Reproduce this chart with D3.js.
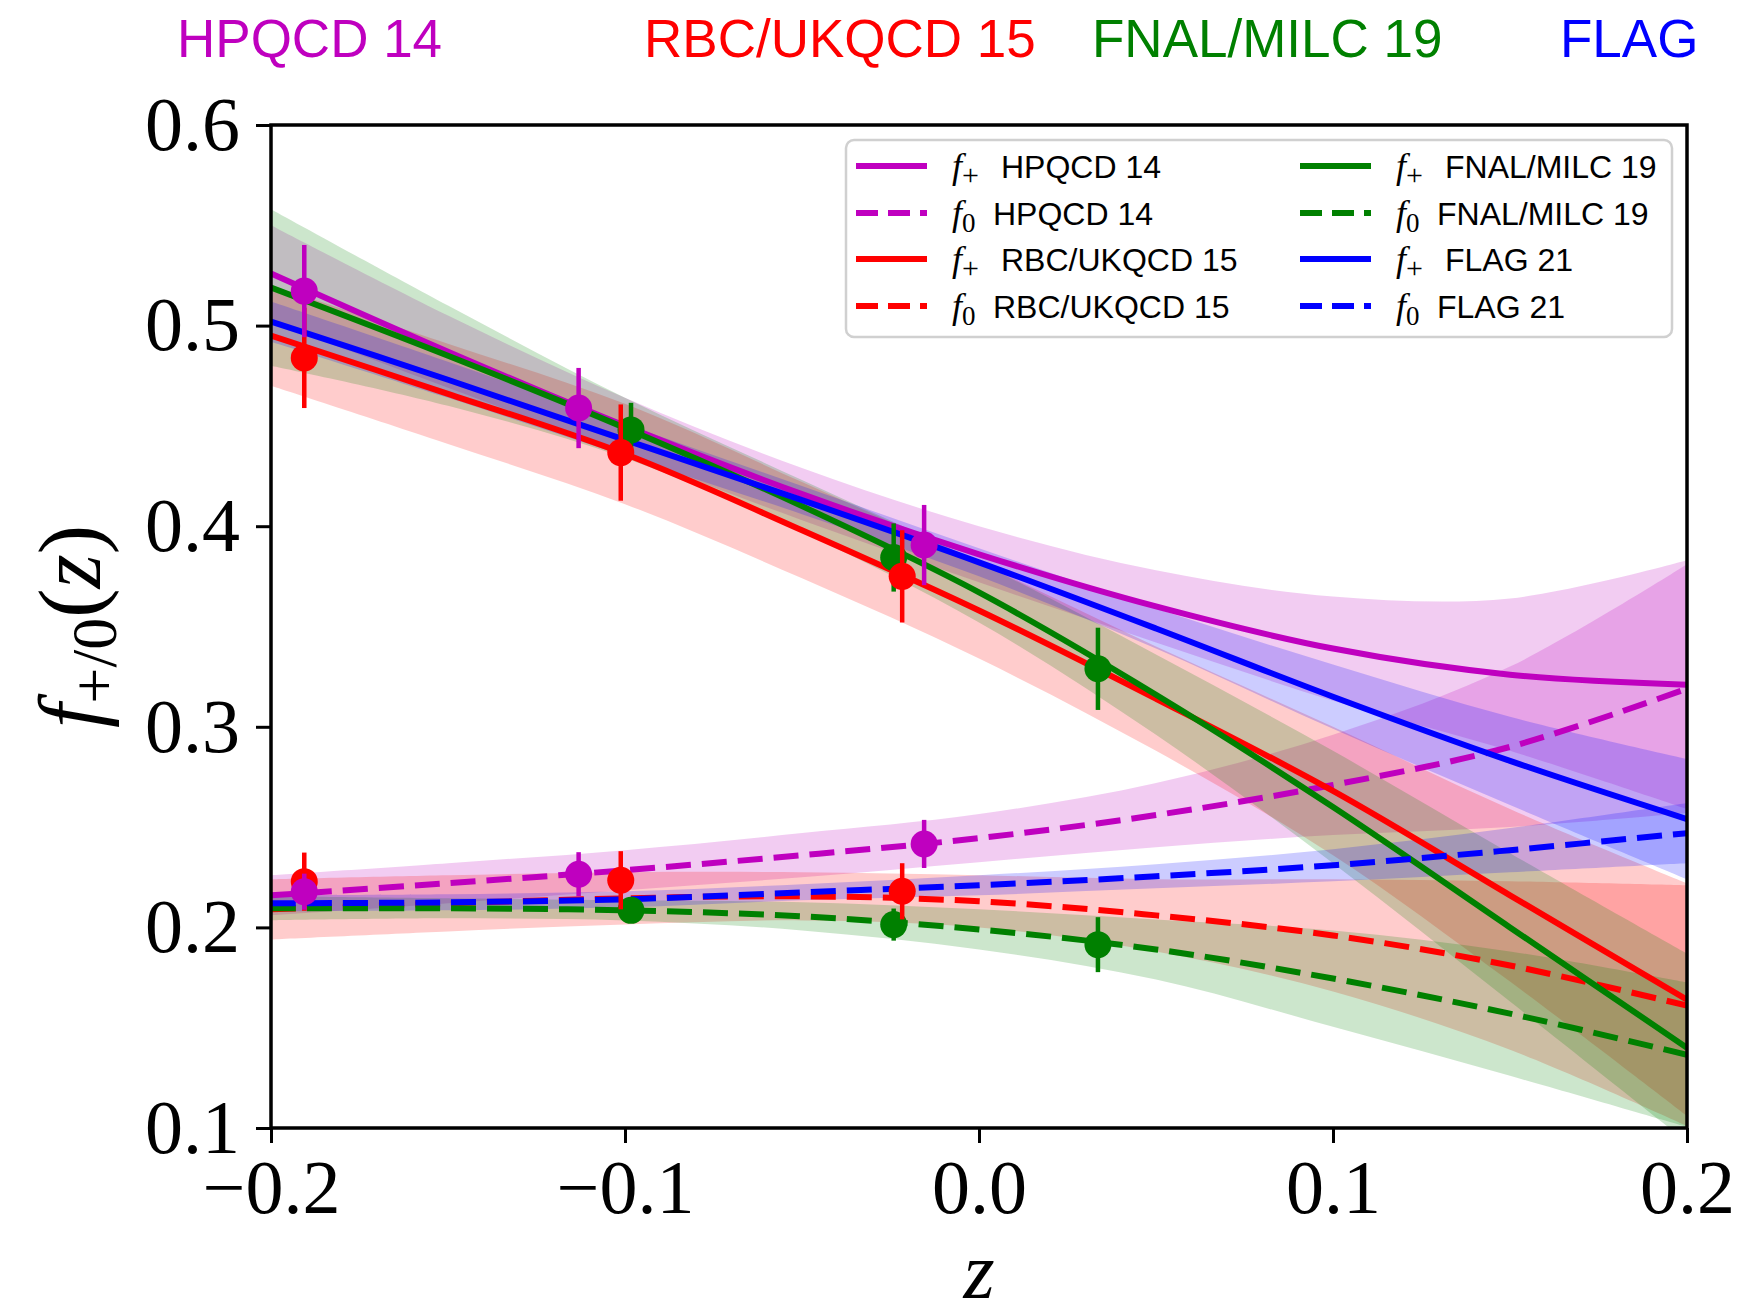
<html>
<head>
    <script src = "https://d3js.org/d3.v7.min.js"></script>
    <style>
        body { margin: 0; background: #fff; }
    </style>
</head>
<body>
<script>

    //--------------------------data-------------------------
    // z nodes where the fitted curves were read off
    var zNodes = [-0.2, -0.15, -0.1, -0.05, 0.0, 0.05, 0.1, 0.15, 0.2];

    // HPQCD 14
    var hpqcdFp    = [0.526, 0.487, 0.450, 0.416, 0.386, 0.360, 0.339, 0.326, 0.321];
    var hpqcdFpErr = [0.024, 0.018, 0.014, 0.013, 0.014, 0.018, 0.026, 0.038, 0.062];
    var hpqcdF0    = [0.216, 0.222, 0.2285, 0.236, 0.2445, 0.256, 0.271, 0.290, 0.319];
    var hpqcdF0Err = [0.010, 0.010, 0.010, 0.011, 0.012, 0.016, 0.025, 0.040, 0.062];

    // RBC/UKQCD 15
    var rbcFp    = [0.495, 0.466, 0.436, 0.398, 0.358, 0.314, 0.268, 0.216, 0.164];
    var rbcFpErr = [0.025, 0.025, 0.025, 0.024, 0.024, 0.026, 0.032, 0.043, 0.058];
    var rbcF0    = [0.209, 0.212, 0.2145, 0.2155, 0.213, 0.206, 0.196, 0.181, 0.161];
    var rbcF0Err = [0.015, 0.014, 0.013, 0.012, 0.013, 0.018, 0.028, 0.042, 0.060];

    // FNAL/MILC 19
    var fnalFp    = [0.519, 0.485, 0.449, 0.410, 0.367, 0.316, 0.260, 0.200, 0.140];
    var fnalFpErr = [0.039, 0.025, 0.015, 0.013, 0.015, 0.020, 0.028, 0.037, 0.047];
    var fnalF0    = [0.2095, 0.2095, 0.2085, 0.2055, 0.199, 0.189, 0.1745, 0.157, 0.1365];
    var fnalF0Err = [0.006, 0.005, 0.005, 0.007, 0.010, 0.015, 0.024, 0.031, 0.036];

    // FLAG 21
    var flagFp    = [0.502, 0.473, 0.443, 0.413, 0.382, 0.349, 0.315, 0.283, 0.254];
    var flagFpErr = [0.010, 0.009, 0.008, 0.007, 0.007, 0.010, 0.016, 0.022, 0.030];
    var flagF0    = [0.212, 0.2125, 0.214, 0.2175, 0.221, 0.2255, 0.231, 0.2385, 0.247];
    var flagF0Err = [0.004, 0.004, 0.004, 0.004, 0.005, 0.006, 0.008, 0.011, 0.015];

    // lattice data points
    var hpqcdPtZ    = [-0.1906, -0.1131, -0.0155];
    var hpqcdPtFp   = [0.5172, 0.4589, 0.3906];
    var hpqcdPtFpE  = [0.023, 0.020, 0.020];
    var hpqcdPtF0   = [0.2178, 0.2265, 0.2416];
    var hpqcdPtF0E  = [0.009, 0.011, 0.012];

    var rbcPtZ    = [-0.1906, -0.1012, -0.0217];
    var rbcPtFp   = [0.4839, 0.4367, 0.375];
    var rbcPtFpE  = [0.025, 0.024, 0.023];
    var rbcPtF0   = [0.2228, 0.2235, 0.218];
    var rbcPtF0E  = [0.0145, 0.0145, 0.014];

    var fnalPtZ    = [-0.0983, -0.0241, 0.0336];
    var fnalPtFp   = [0.448, 0.3844, 0.3289];
    var fnalPtFpE  = [0.0135, 0.017, 0.0205];
    var fnalPtF0   = [0.2085, 0.2014, 0.1914];
    var fnalPtF0E  = [0.006, 0.008, 0.0137];

    var xTicks = [-0.2, -0.1, 0.0, 0.1, 0.2];
    var xTickLabels = ["\u22120.2", "\u22120.1", "0.0", "0.1", "0.2"];
    var yTicks = [0.1, 0.2, 0.3, 0.4, 0.5, 0.6];
    var yTickLabels = ["0.1", "0.2", "0.3", "0.4", "0.5", "0.6"];

    var titles = ["HPQCD 14", "RBC/UKQCD 15", "FNAL/MILC 19", "FLAG"];
    var legendNames = ["HPQCD 14", "RBC/UKQCD 15", "FNAL/MILC 19", "FLAG 21"];

    //--------------------------setup-------------------------
    var W = 1747, H = 1312;
    // plot area (note: "top" is a reserved window property, so prefix these)
    var pLeft = 271, pRight = 1687, pTop = 125, pBottom = 1128;
    var serif = "'Liberation Serif', 'DejaVu Serif', serif";
    var sans = "'Liberation Sans', Arial, sans-serif";
    var lw = 6, dash = "25,11";

    var colors = {hpqcd: "#bf00bf", rbc: "#ff0000", fnal: "#008000", flag: "#0000ff"};

    var x = d3.scaleLinear().domain([-0.2, 0.2]).range([pLeft, pRight]);
    var y = d3.scaleLinear().domain([0.1, 0.6]).range([pBottom, pTop]);

    var svg = d3.select("body").append("svg")
        .attr("width", W)
        .attr("height", H);

    svg.append("defs").append("clipPath")
        .attr("id", "plotclip")
        .append("rect")
        .attr("x", pLeft).attr("y", pTop)
        .attr("width", pRight - pLeft).attr("height", pBottom - pTop);

    var plot = svg.append("g").attr("clip-path", "url(#plotclip)");

    var series = [
        {key: "hpqcd", fp: hpqcdFp, fpErr: hpqcdFpErr, f0: hpqcdF0, f0Err: hpqcdF0Err},
        {key: "rbc",   fp: rbcFp,   fpErr: rbcFpErr,   f0: rbcF0,   f0Err: rbcF0Err},
        {key: "fnal",  fp: fnalFp,  fpErr: fnalFpErr,  f0: fnalF0,  f0Err: fnalF0Err},
        {key: "flag",  fp: flagFp,  fpErr: flagFpErr,  f0: flagF0,  f0Err: flagF0Err}
    ];

    var rows = function (c, e) {
        return zNodes.map(function (z, i) { return {z: z, c: c[i], e: e[i]}; });
    };

    var band = d3.area()
        .curve(d3.curveCatmullRom)
        .x(function (d) { return x(d.z); })
        .y0(function (d) { return y(d.c - d.e); })
        .y1(function (d) { return y(d.c + d.e); });

    var line = d3.line()
        .curve(d3.curveCatmullRom)
        .x(function (d) { return x(d.z); })
        .y(function (d) { return y(d.c); });

    // bands first
    series.forEach(function (s) {
        plot.append("path")
            .attr("d", band(rows(s.fp, s.fpErr)))
            .attr("fill", colors[s.key])
            .attr("fill-opacity", 0.2);
        plot.append("path")
            .attr("d", band(rows(s.f0, s.f0Err)))
            .attr("fill", colors[s.key])
            .attr("fill-opacity", 0.2);
    });

    // central curves
    series.forEach(function (s) {
        plot.append("path")
            .attr("d", line(rows(s.fp, s.fpErr)))
            .attr("fill", "none")
            .attr("stroke", colors[s.key])
            .attr("stroke-width", lw);
        plot.append("path")
            .attr("d", line(rows(s.f0, s.f0Err)))
            .attr("fill", "none")
            .attr("stroke", colors[s.key])
            .attr("stroke-width", lw)
            .attr("stroke-dasharray", dash);
    });

    // data points with error bars
    var points = [
        {key: "fnal",  z: fnalPtZ,  v: [fnalPtFp, fnalPtF0],   e: [fnalPtFpE, fnalPtF0E]},
        {key: "rbc",   z: rbcPtZ,   v: [rbcPtFp, rbcPtF0],     e: [rbcPtFpE, rbcPtF0E]},
        {key: "hpqcd", z: hpqcdPtZ, v: [hpqcdPtFp, hpqcdPtF0], e: [hpqcdPtFpE, hpqcdPtF0E]}
    ];
    points.forEach(function (p) {
        [0, 1].forEach(function (k) {
            p.z.forEach(function (z, i) {
                var g = plot.append("g");
                g.append("line")
                    .attr("x1", x(z)).attr("x2", x(z))
                    .attr("y1", y(p.v[k][i] - p.e[k][i]))
                    .attr("y2", y(p.v[k][i] + p.e[k][i]))
                    .attr("stroke", colors[p.key])
                    .attr("stroke-width", 4.5);
                g.append("circle")
                    .attr("cx", x(z))
                    .attr("cy", y(p.v[k][i]))
                    .attr("r", 13.5)
                    .attr("fill", colors[p.key]);
            });
        });
    });

    //--------------------------axes-------------------------
    var xAxis = d3.axisBottom(x)
        .tickValues(xTicks)
        .tickSize(15)
        .tickPadding(16)
        .tickFormat(function (d, i) { return xTickLabels[i]; });
    var gx = svg.append("g")
        .attr("transform", "translate(0," + pBottom + ")")
        .call(xAxis);

    var yAxis = d3.axisLeft(y)
        .tickValues(yTicks)
        .tickSize(15)
        .tickPadding(16)
        .tickFormat(function (d, i) { return yTickLabels[i]; });
    var gy = svg.append("g")
        .attr("transform", "translate(" + pLeft + ",0)")
        .call(yAxis);

    [gx, gy].forEach(function (g) {
        g.select(".domain").remove();
        g.selectAll(".tick line").attr("stroke", "#000").attr("stroke-width", 3);
        g.selectAll(".tick text")
            .attr("fill", "#000")
            .style("font-family", serif)
            .style("font-size", "76px");
    });
    gy.selectAll(".tick text").attr("dy", "0.32em");
    gx.selectAll(".tick text").attr("dy", "0.71em");

    // frame
    svg.append("rect")
        .attr("x", pLeft).attr("y", pTop)
        .attr("width", pRight - pLeft).attr("height", pBottom - pTop)
        .attr("fill", "none")
        .attr("stroke", "#000")
        .attr("stroke-width", 3.5);

    // axis labels
    var xl = svg.append("text")
        .attr("x", (pLeft + pRight) / 2)
        .attr("y", 1298)
        .attr("text-anchor", "middle")
        .style("font-family", serif)
        .style("font-size", "80px");
    xl.append("tspan").style("font-style", "italic").text("z");

    var yl = svg.append("text")
        .attr("transform", "translate(100," + ((pTop + pBottom) / 2) + ") rotate(-90)")
        .attr("text-anchor", "middle")
        .style("font-family", serif)
        .style("font-size", "88px");
    yl.append("tspan").style("font-style", "italic").text("f");
    yl.append("tspan").attr("dy", 16).style("font-size", "64px").text("+/0");
    yl.append("tspan").attr("dy", -16).text("(");
    yl.append("tspan").style("font-style", "italic").text("z");
    yl.append("tspan").text(")");

    //--------------------------titles-------------------------
    var titleX = [177, 644, 1092, 1560];
    var titleKeys = ["hpqcd", "rbc", "fnal", "flag"];
    titles.forEach(function (t, i) {
        svg.append("text")
            .attr("x", titleX[i])
            .attr("y", 57)
            .attr("fill", colors[titleKeys[i]])
            .style("font-family", sans)
            .style("font-size", "53px")
            .text(t);
    });

    //--------------------------legend-------------------------
    var leg = svg.append("g");
    leg.append("rect")
        .attr("x", 846).attr("y", 140)
        .attr("width", 826).attr("height", 197)
        .attr("rx", 8)
        .attr("fill", "#fff")
        .attr("fill-opacity", 0.8)
        .attr("stroke", "#d0d0d0")
        .attr("stroke-width", 2.5);

    var legItems = [];
    titleKeys.forEach(function (k, i) {
        legItems.push({key: k, sub: "+", name: legendNames[i], dash: false});
        legItems.push({key: k, sub: "0", name: legendNames[i], dash: true});
    });
    var rowY = [166, 213, 259, 306];
    var colX = [856, 1300];
    legItems.forEach(function (it, i) {
        var cx = colX[Math.floor(i / 4)];
        var cy = rowY[i % 4];
        leg.append("line")
            .attr("x1", cx).attr("x2", cx + 71)
            .attr("y1", cy).attr("y2", cy)
            .attr("stroke", colors[it.key])
            .attr("stroke-width", lw)
            .attr("stroke-dasharray", it.dash ? "22,10" : null);
        var t = leg.append("text")
            .attr("x", cx + 96)
            .attr("y", cy + 11.5)
            .attr("fill", "#000")
            .style("font-family", serif);
        t.append("tspan")
            .style("font-style", "italic")
            .style("font-size", "36px")
            .text("f");
        t.append("tspan")
            .attr("dy", 7)
            .style("font-size", it.sub == "+" ? "30px" : "27px")
            .text(it.sub);
        leg.append("text")
            .attr("x", cx + (it.sub == "+" ? 145 : 137))
            .attr("y", cy + 11.5)
            .attr("fill", "#000")
            .style("font-family", sans)
            .style("font-size", "32px")
            .text(it.name);
    });

</script>
</body>
</html>
